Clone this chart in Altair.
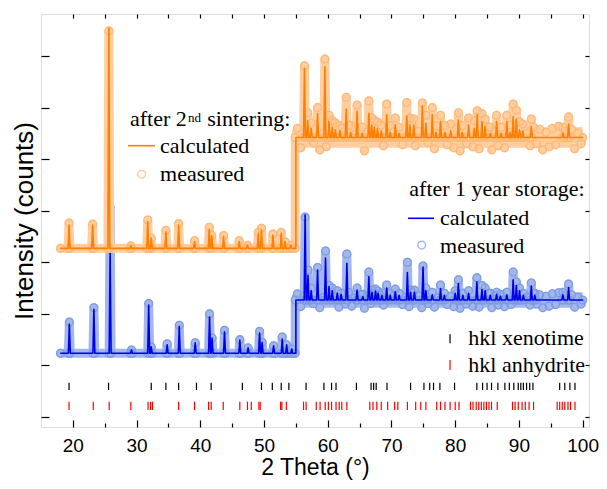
import altair as alt
import pandas as pd

# ---------------- data ----------------
# axis units: x = 2 Theta (deg); y = arbitrary intensity units (ticks at 0..7)
blue_pre_base, blue_post_base = 1.235, 2.27
orange_pre_base, orange_post_base = 3.27, 5.42

blue_peak_x = [19.45, 23.3, 25.85, 29.2, 31.9, 32.3, 34.8, 36.7, 39.2, 41.45, 41.85, 43.8,
               46.2, 47.5, 49.3, 49.7, 51.5, 52.85, 53.55, 54.35,
               56.45, 56.9, 57.4, 58.4, 59.65, 60.2, 60.7, 61.5, 62.1, 63.0, 64.6, 65.5,
               66.45, 66.95, 67.5, 67.9, 68.5, 69.25, 69.8, 70.6, 71.2, 72.5, 73.0, 73.6,
               74.95, 75.4, 76.4, 77.7, 78.3, 80.0, 80.5, 81.2, 82.1, 83.4, 84.2, 84.7,
               85.5, 86.5, 87.1, 88.1, 89.1, 89.6, 90.1, 90.7, 91.95, 92.5, 96.9, 97.8]
blue_peak_calc = [1.80, 2.09, 3.21, 1.30, 2.17, 1.36, 1.40, 1.76, 1.44, 1.94, 1.53, 1.65,
                  1.49, 1.34, 1.63, 1.45, 1.38, 1.51, 1.40, 1.32,
                  3.92, 2.75, 2.45, 2.85, 3.08, 2.53, 2.45, 2.40, 2.38, 2.98, 2.46, 2.33,
                  2.72, 2.42, 2.44, 2.40, 2.36, 2.50, 2.36, 2.43, 2.36, 2.80, 2.42, 2.42,
                  2.91, 2.45, 2.37, 2.49, 2.36, 2.40, 2.59, 2.36, 2.40, 2.62, 2.47, 2.45,
                  2.36, 2.38, 2.34, 2.37, 2.66, 2.55, 2.45, 2.36, 2.54, 2.36, 2.37, 2.51]
blue_peak_meas = [1.84, 2.12, 4.07, 1.30, 2.20, 1.36, 1.42, 1.78, 1.44, 2.00, 1.53, 1.68,
                  1.50, 1.34, 1.66, 1.45, 1.38, 1.55, 1.40, 1.32,
                  3.88, 2.85, 2.50, 2.90, 3.22, 2.55, 2.50, 2.45, 2.40, 3.16, 2.50, 2.38,
                  2.81, 2.46, 2.48, 2.44, 2.40, 2.56, 2.40, 2.48, 2.40, 3.00, 2.46, 2.46,
                  2.93, 2.50, 2.42, 2.56, 2.40, 2.45, 2.66, 2.40, 2.45, 2.70, 2.55, 2.50,
                  2.40, 2.42, 2.38, 2.42, 2.81, 2.62, 2.50, 2.40, 2.60, 2.40, 2.42, 2.58]

orange_peak_x = [19.4, 23.1, 25.65, 29.1, 31.75, 32.3, 34.6, 36.6, 39.1, 41.4, 41.8, 43.65,
                 46.1, 47.4, 49.1, 49.6, 51.4, 52.7, 53.3, 54.2,
                 56.35, 56.85, 57.4, 58.4, 59.55, 60.2, 60.7, 61.2, 61.9, 62.9, 63.6, 64.6,
                 65.4, 66.45, 66.9, 67.3, 67.8, 68.4, 69.25, 69.8, 70.6, 71.2, 72.4, 72.9,
                 73.5, 74.85, 75.4, 76.4, 77.0, 77.7, 78.4, 79.3, 80.5, 81.1, 82.1, 83.0,
                 83.45, 84.2, 84.7, 85.5, 86.5, 87.2, 88.1, 88.6, 89.1, 89.6, 90.1, 90.6,
                 91.95, 96.9, 97.8]
orange_peak_calc = [3.72, 3.72, 7.54, 3.32, 3.79, 3.47, 3.59, 3.72, 3.40, 3.64, 3.52, 3.50,
                    3.40, 3.33, 3.56, 3.63, 3.53, 3.56, 3.40, 3.33,
                    6.76, 5.75, 5.60, 5.88, 6.79, 5.73, 5.62, 5.57, 5.55, 5.97, 5.52, 5.93,
                    5.50, 5.89, 5.66, 5.62, 5.60, 5.55, 5.86, 5.52, 5.66, 5.50, 5.84, 5.66,
                    5.66, 6.03, 5.70, 5.86, 5.52, 5.73, 5.52, 5.55, 5.76, 5.52, 5.66, 5.60,
                    5.86, 5.73, 5.63, 5.50, 5.73, 5.50, 5.73, 5.52, 5.82, 5.78, 5.57, 5.55,
                    5.63, 5.51, 5.68]
orange_peak_meas = [3.76, 3.74, 7.49, 3.32, 3.82, 3.47, 3.62, 3.75, 3.42, 3.68, 3.52, 3.52,
                    3.42, 3.33, 3.58, 3.66, 3.55, 3.58, 3.40, 3.33,
                    6.81, 5.90, 5.70, 6.00, 6.94, 5.85, 5.75, 5.70, 5.65, 6.20, 5.65, 6.05,
                    5.62, 6.13, 5.80, 5.75, 5.72, 5.66, 6.07, 5.65, 5.80, 5.62, 6.10, 5.80,
                    5.78, 6.09, 5.85, 6.00, 5.65, 5.85, 5.65, 5.68, 5.90, 5.65, 5.80, 5.75,
                    5.94, 5.88, 5.78, 5.62, 5.85, 5.62, 5.85, 5.66, 6.07, 5.95, 5.72, 5.68,
                    5.78, 5.62, 5.82]

# scatter of the measured points about the background after 55 deg
orange_noise = [0.18, -0.20, 0.12, -0.16, 0.22, -0.10, 0.16, -0.24, 0.08, -0.18,
                0.20, -0.14, 0.10, -0.22, 0.18, -0.12, 0.24, -0.18, 0.06, -0.20,
                0.16, -0.26, 0.12, -0.10, 0.20, -0.22, 0.14, -0.16, 0.22, -0.12,
                0.10, -0.28, 0.18, -0.14, 0.08, -0.20, 0.22, -0.16, 0.12, -0.24,
                0.20, -0.10, 0.16, -0.22, 0.06, -0.18, 0.24, -0.14, 0.10, -0.20,
                0.18, -0.26, 0.14, -0.12, 0.22, -0.18, 0.08, -0.22, 0.16, -0.10,
                0.20, -0.24, 0.12, -0.16, 0.18, -0.20, 0.10, -0.14, 0.22, -0.18,
                0.14, -0.22, 0.08, -0.16, 0.20, -0.12, 0.16, -0.24, 0.10, -0.18,
                0.18, -0.14, 0.22, -0.20, 0.12, -0.16, 0.16, -0.22, 0.08, -0.12]
blue_noise = [0.12, -0.13, 0.08, -0.10, 0.14, -0.07, 0.10, -0.15, 0.05, -0.12,
              0.13, -0.09, 0.07, -0.14, 0.12, -0.08, 0.15, -0.12, 0.04, -0.13,
              0.10, -0.16, 0.08, -0.07, 0.13, -0.14, 0.09, -0.10, 0.14, -0.08,
              0.07, -0.17, 0.12, -0.09, 0.05, -0.13, 0.14, -0.10, 0.08, -0.15,
              0.13, -0.07, 0.10, -0.14, 0.04, -0.12, 0.15, -0.09, 0.07, -0.13,
              0.12, -0.16, 0.09, -0.08, 0.14, -0.12, 0.05, -0.14, 0.10, -0.07,
              0.13, -0.15, 0.08, -0.10, 0.12, -0.13, 0.07, -0.09, 0.14, -0.12,
              0.09, -0.14, 0.05, -0.10, 0.13, -0.08, 0.10, -0.15, 0.07, -0.12,
              0.12, -0.09, 0.14, -0.13, 0.08, -0.10, 0.10, -0.14, 0.05, -0.08]
noise_x = [55.25 + 0.5 * i for i in range(90)]

# envelope of the dense measured scatter after 55 deg: [x0, x1, y_low, y_high]
orange_band = [55.0, 100.0, 5.22, 5.62]
blue_band = [55.0, 100.0, 2.12, 2.42]

hkl_xenotime = [19.4, 25.6, 32.3, 34.6, 36.6, 39.4, 41.7, 46.6, 49.6, 51.3, 52.7, 53.9,
                56.6, 59.4, 60.6, 61.3, 64.5, 66.8, 67.2, 67.6, 69.3, 73.0, 75.1, 76.0,
                76.6, 77.6, 79.9, 83.4, 84.3, 85.0, 85.7, 86.7, 87.8, 88.5, 89.2, 89.9,
                90.3, 90.7, 91.2, 91.7, 92.2, 96.4, 97.2, 98.0, 98.8]
hkl_anhydrite = [19.4, 23.2, 25.7, 29.1, 31.8, 32.2, 32.5, 36.6, 39.1, 41.3, 41.7, 43.6,
                 46.2, 47.4, 48.0, 49.2, 49.4, 52.6, 52.8, 53.5, 56.2, 56.6, 58.2, 58.8,
                 59.6, 60.1, 60.6, 61.3, 61.8, 62.2, 63.0, 66.6, 67.1, 67.7, 68.4, 69.4,
                 70.5, 71.0, 72.5, 73.8, 74.6, 75.4, 77.1, 77.7, 78.4, 79.2, 80.0, 80.6,
                 82.4, 82.8, 83.3, 83.7, 84.1, 84.5, 84.9, 85.3, 85.7, 86.6, 89.0, 89.4,
                 89.9, 90.5, 91.0, 91.6, 92.3, 96.0, 96.4, 96.8, 97.2, 97.7, 98.1, 98.8]

x_ticks_major = [20, 30, 40, 50, 60, 70, 80, 90, 100]
x_ticks_minor = [25, 35, 45, 55, 65, 75, 85, 95]
x_ticks_top = [20, 25, 30, 35, 40, 45, 50, 55, 60, 65, 70, 75, 80, 85, 90, 95, 100]
y_ticks = [0, 1, 2, 3, 4, 5, 6, 7]

C_ORANGE, C_ORANGE_BAND, C_ORANGE_RING = "#ff7f00", "#ffcd9e", "#ffb877"
C_BLUE, C_BLUE_BAND, C_BLUE_RING = "#0000f0", "#a3b7ec", "#7d9ce2"

W = 0.15  # half base width of a peak in the profile table


def calc_table(pre, post, jump, px, py, start, end):
    pts = [(start, pre)]
    done = False
    for p, h in zip(px, py):
        if p > jump and not done:
            pts += [(jump, pre), (jump, post)]
            done = True
        b = post if p > jump else pre
        pts += [(p - W, b), (p, h), (p + W, b)]
    pts.append((end, post))
    return pd.DataFrame({"x": [a for a, _ in pts], "y": [b for _, b in pts],
                         "i": list(range(len(pts)))})


def meas_table(pre, post, jump, px, py, noise, start, end):
    pts = [(start, pre)]
    for p, h in zip(px, py):
        b = post if p > jump else pre
        pts += [(p - W, b), (p, h), (p + W, b)]
    pts += [(jump, pre), (jump, post)]
    for nx, n in zip(noise_x, noise):
        if all(abs(nx - p) > W + 0.05 for p in px):
            pts.append((nx, post + n))
    pts.append((end, post))
    pts.sort(key=lambda t: t[0])
    return pd.DataFrame({"x": [a for a, _ in pts], "y": [b for _, b in pts],
                         "i": list(range(len(pts)))})


blue_calc = calc_table(blue_pre_base, blue_post_base, 55.0, blue_peak_x, blue_peak_calc, 18.1, 100.0)
blue_meas = meas_table(blue_pre_base, blue_post_base, 54.9, blue_peak_x, blue_peak_meas, blue_noise, 18.05, 100.0)
orange_calc = calc_table(orange_pre_base, orange_post_base, 55.0, orange_peak_x, orange_peak_calc, 18.1, 100.0)
orange_meas = meas_table(orange_pre_base, orange_post_base, 54.9, orange_peak_x, orange_peak_meas, orange_noise, 18.05, 100.0)

hkl = pd.DataFrame({
    "x": hkl_xenotime + hkl_anhydrite,
    "y": [0.524] * len(hkl_xenotime) + [0.136] * len(hkl_anhydrite),
    "y2": [0.665] * len(hkl_xenotime) + [0.297] * len(hkl_anhydrite),
    "c": ["#000000"] * len(hkl_xenotime) + ["#ff0000"] * len(hkl_anhydrite),
})

# legend (positions in axis units)
leg_text = pd.DataFrame({
    "x": [28.97, 38.07, 41.10, 33.68, 33.68, 72.80, 77.62, 77.62, 82.06, 82.06],
    "y": [5.643, 5.72, 5.643, 5.125, 4.567, 4.276, 3.723, 3.180, 1.396, 0.873],
    "t": ["after 2", "nd", "sintering:", "calculated", "measured",
          "after 1 year storage:", "calculated", "measured", "hkl xenotime", "hkl anhydrite"],
    "fs": [22, 13, 22, 22, 22, 22, 22, 22, 22, 22],
})
leg_lines = pd.DataFrame({"x": [28.65, 72.60], "x2": [32.89, 76.68], "y": [5.261, 3.853],
                          "c": [C_ORANGE, C_BLUE]})
leg_pts = pd.DataFrame({"x": [30.80, 74.75], "y": [4.706, 3.335], "c": [C_ORANGE_RING, C_BLUE_RING]})
leg_ticks = pd.DataFrame({"x": [79.19, 79.19], "y": [1.429, 0.911], "y2": [1.604, 1.105],
                          "c": ["#000000", "#ff0000"]})
bands = pd.DataFrame({
    "x": [blue_band[0], orange_band[0]], "x2": [blue_band[1], orange_band[1]],
    "y": [blue_band[2], orange_band[2]], "y2": [blue_band[3], orange_band[3]],
    "c": [C_BLUE_BAND, C_ORANGE_BAND],
})

# ---------------- chart ----------------
xs = alt.Scale(domain=[15, 101], nice=False, zero=False)
ys = alt.Scale(domain=[-0.194, 7.815], nice=False, zero=False)

ax_bottom = alt.Axis(orient="bottom", values=x_ticks_major, offset=-7, tickSize=7, tickWidth=1.2,
                     tickColor="black", domain=False, grid=False, labelFontSize=19,
                     labelFont="Liberation Sans", labelColor="black", labelPadding=9,
                     title="2 Theta (°)", titleFont="Liberation Sans", titleFontSize=23,
                     titleFontWeight="normal", titleColor="black", titlePadding=1)
ax_bottom_minor = alt.Axis(orient="bottom", values=x_ticks_minor, offset=-4, tickSize=4, tickWidth=1.2,
                           tickColor="black", domain=False, grid=False, labels=False, title=None)
ax_top = alt.Axis(orient="top", values=x_ticks_top, offset=-4, tickSize=4, tickWidth=1.2,
                  tickColor="black", domain=False, grid=False, labels=False, title=None)
ax_left = alt.Axis(orient="left", values=y_ticks, offset=-8, tickSize=8, tickWidth=1.2,
                   tickColor="black", domain=False, grid=False, labels=False,
                   title="Intensity (counts)", titleFont="Liberation Sans", titleFontSize=26,
                   titleFontWeight="normal", titleColor="black", titlePadding=3)
ax_right = alt.Axis(orient="right", values=y_ticks, offset=-4, tickSize=4, tickWidth=1.2,
                    tickColor="black", domain=False, grid=False, labels=False, title=None)


def line_layer(df, color, sw, xaxis=None, yaxis=None):
    return alt.Chart(df).mark_line(color=color, strokeWidth=sw, strokeJoin="round",
                                   strokeCap="round").encode(
        x=alt.X("x:Q", scale=xs, axis=xaxis),
        y=alt.Y("y:Q", scale=ys, axis=yaxis),
        order="i:Q")


def ring_layer(df, color, xaxis=None, yaxis=None):
    return alt.Chart(df).mark_point(shape="circle", filled=False, size=60, strokeWidth=1.3,
                                    color=color, opacity=1).encode(
        x=alt.X("x:Q", scale=xs, axis=xaxis),
        y=alt.Y("y:Q", scale=ys, axis=yaxis))


band_layer = alt.Chart(bands).mark_rect().encode(
    x=alt.X("x:Q", scale=xs, axis=ax_bottom), x2="x2:Q",
    y=alt.Y("y:Q", scale=ys, axis=ax_left), y2="y2:Q",
    color=alt.Color("c:N", scale=None))

layers = [
    band_layer,
    line_layer(blue_meas, C_BLUE_BAND, 9, ax_bottom_minor, ax_right),
    ring_layer(blue_meas, C_BLUE_RING, ax_top, None),
    line_layer(blue_calc, C_BLUE, 1.6),
    line_layer(orange_meas, C_ORANGE_BAND, 9),
    ring_layer(orange_meas, C_ORANGE_RING),
    line_layer(orange_calc, C_ORANGE, 1.6),
    alt.Chart(hkl).mark_rule(strokeWidth=1.2).encode(
        x=alt.X("x:Q", scale=xs, axis=None), y=alt.Y("y:Q", scale=ys, axis=None), y2="y2:Q",
        color=alt.Color("c:N", scale=None)),
    alt.Chart(leg_text).mark_text(font="Liberation Serif", align="left", baseline="alphabetic",
                                  color="black").encode(
        x=alt.X("x:Q", scale=xs, axis=None), y=alt.Y("y:Q", scale=ys, axis=None),
        text="t:N", size=alt.Size("fs:Q", scale=None)),
    alt.Chart(leg_lines).mark_rule(strokeWidth=1.6).encode(
        x=alt.X("x:Q", scale=xs, axis=None), x2="x2:Q", y=alt.Y("y:Q", scale=ys, axis=None),
        color=alt.Color("c:N", scale=None)),
    alt.Chart(leg_pts).mark_point(shape="circle", filled=False, size=60, strokeWidth=1.5).encode(
        x=alt.X("x:Q", scale=xs, axis=None), y=alt.Y("y:Q", scale=ys, axis=None),
        color=alt.Color("c:N", scale=None)),
    alt.Chart(leg_ticks).mark_rule(strokeWidth=1.2).encode(
        x=alt.X("x:Q", scale=xs, axis=None), y=alt.Y("y:Q", scale=ys, axis=None), y2="y2:Q",
        color=alt.Color("c:N", scale=None)),
]

chart = alt.layer(*layers).resolve_axis(x="independent", y="independent").properties(
    width=548, height=413,
    autosize=alt.AutoSizeParams(type="none"),
    padding={"left": 33, "top": 6, "right": 10, "bottom": 54},
).configure_view(stroke="black", strokeWidth=1.5).configure(background="white")

chart.save("out.html", embed_options={"renderer": "svg", "actions": False})
